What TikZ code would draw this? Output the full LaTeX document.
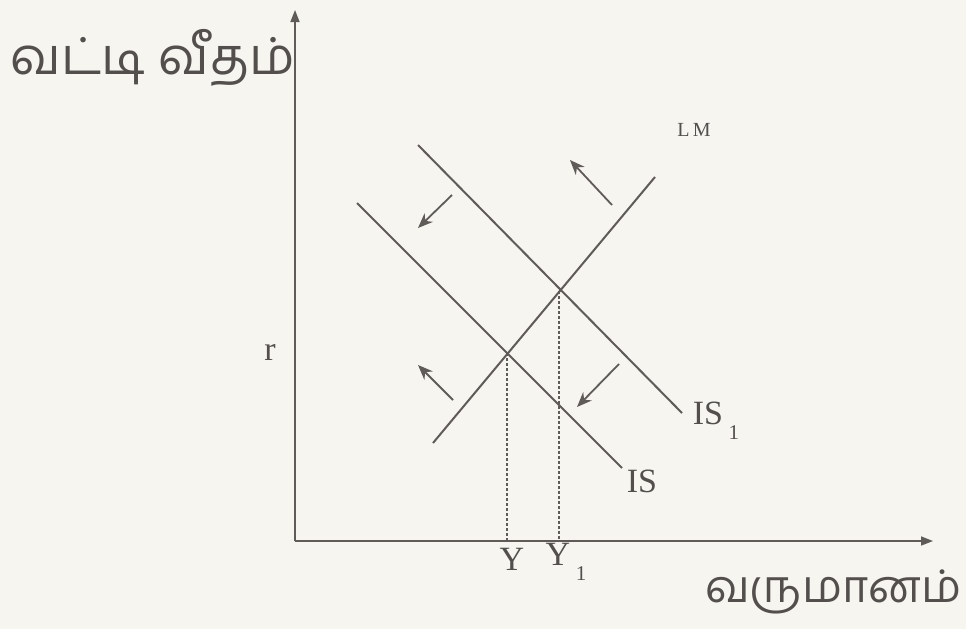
\documentclass[tikz,border=0pt]{standalone}
\usepackage{fontspec}
\setmainfont{Liberation Serif}
\newfontfamily\tamil[Script=Tamil]{Hind Madurai}
\usetikzlibrary{arrows.meta}
\definecolor{bg}{HTML}{F6F5F0}
\definecolor{ink}{HTML}{5E5B58}
\definecolor{txt}{HTML}{524F4C}
\tikzset{
  curve/.style={draw=ink, line width=2pt},
  axis/.style={draw=ink, line width=1.6pt, -{Triangle[length=12pt,width=9pt]}},
  shift arrow/.style={draw=ink, line width=1.8pt, -{Stealth[length=15pt,width=12pt]}},
  guide/.style={draw=ink, line width=1.3pt, dash pattern=on 3pt off 2pt},
  lbl/.style={text=txt, inner sep=0pt, font=\fontsize{34}{34}\selectfont},
  small lbl/.style={text=txt, inner sep=0pt, font=\fontsize{20}{20}\selectfont},
  tamil lbl/.style={text=txt, inner sep=0pt, font=\tamil\fontsize{51}{51}\selectfont}
}
\begin{document}
\begin{tikzpicture}[x=1pt,y=-1pt]
\fill[bg] (0,0) rectangle (966,629);
\useasboundingbox (0,0) rectangle (966,629);
% axes
\coordinate (O) at (295,541);
\coordinate (ytop) at (295,10);
\coordinate (xend) at (933,541);
\draw[axis] (O) -- (ytop);
\draw[axis] (O) -- (xend);
% curves
\coordinate (LMa) at (433,443);
\coordinate (LMb) at (655,177);
\coordinate (ISa) at (357,203);
\coordinate (ISb) at (622,468);
\coordinate (ISAa) at (418,145);
\coordinate (ISAb) at (682,413);
\draw[curve] (LMa) -- (LMb);
\draw[curve] (ISa) -- (ISb);
\draw[curve] (ISAa) -- (ISAb);
% equilibria
\coordinate (E) at (507,353);
\coordinate (E1) at (559,291);
\draw[guide] (E) -- (E |- O);
\draw[guide] (E1) -- (E1 |- O);
% shift arrows
\coordinate (a1s) at (452,195); \coordinate (a1e) at (418,228);
\coordinate (a2s) at (612,205); \coordinate (a2e) at (570,160);
\coordinate (a3s) at (453,400); \coordinate (a3e) at (418,365);
\coordinate (a4s) at (619,364); \coordinate (a4e) at (577,407);
\draw[shift arrow] (a1s) -- (a1e);
\draw[shift arrow] (a2s) -- (a2e);
\draw[shift arrow] (a3s) -- (a3e);
\draw[shift arrow] (a4s) -- (a4e);
% labels
\node[small lbl] (lm) at (694,130) {L\,M};
\node[lbl] (r) at (270,352) {r};
\node[lbl] (is1) at (716,421) {IS\,\raisebox{-0.45em}{\fontsize{21}{21}\selectfont 1}};
\node[lbl] (is) at (642,481) {IS};
\node[lbl] (y) at (512,559) {Y};
\node[lbl] (y1) at (566,562) {Y\,\raisebox{-0.45em}{\fontsize{21}{21}\selectfont 1}};
\node[tamil lbl] (ylab) at (153,58) {வட்டி வீதம்};
\node[tamil lbl, anchor=east, font=\tamil\fontsize{45}{45}\selectfont] (xlab) at (962,592) {வருமானம்};
\end{tikzpicture}
\end{document}
